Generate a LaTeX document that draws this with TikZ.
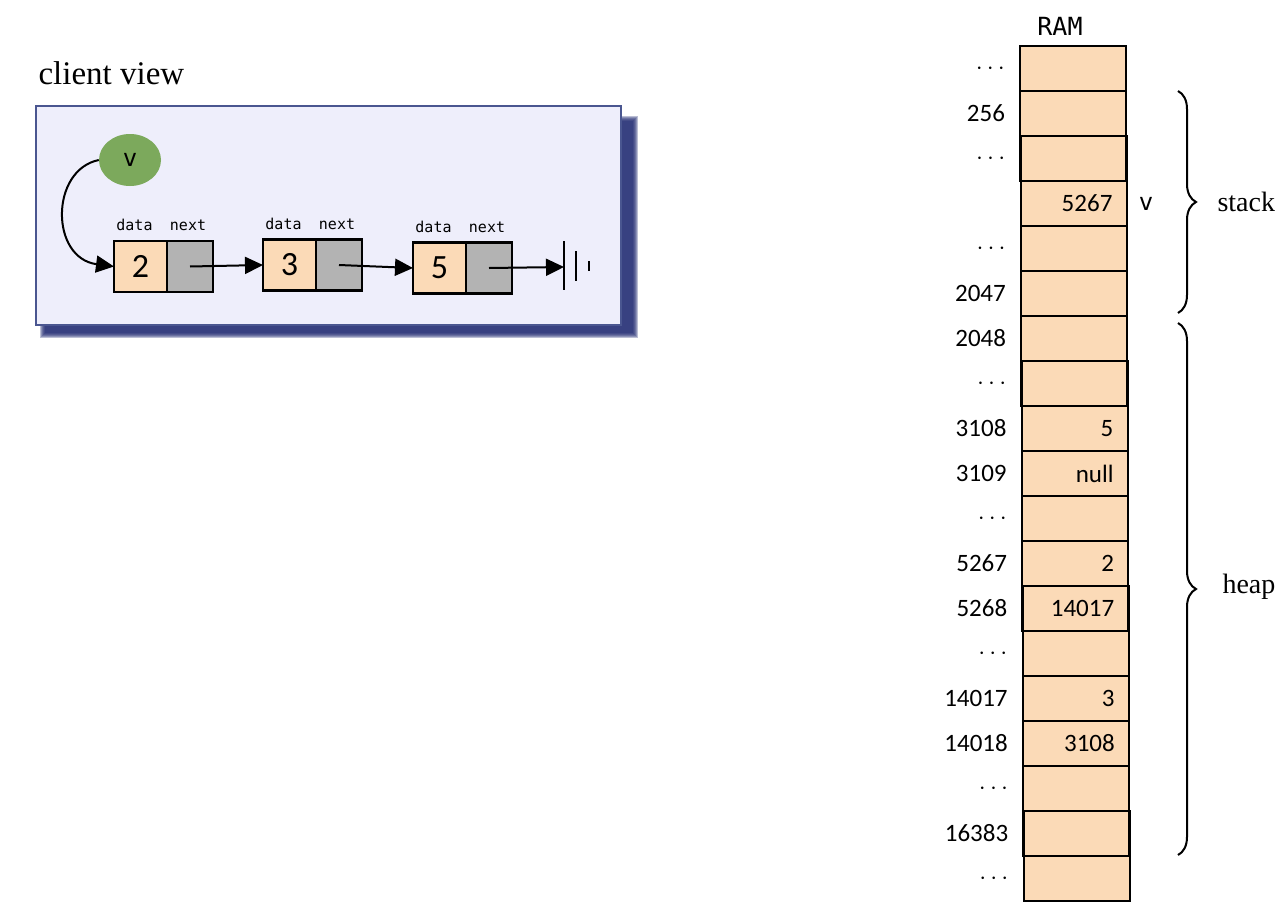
\documentclass[tikz,border=0pt]{standalone}
\usepackage{fontspec}
\setmainfont{Liberation Serif}
\setsansfont{Carlito}
\setmonofont{DejaVu Sans Mono}
\usetikzlibrary{positioning,arrows.meta,decorations.pathreplacing,shapes.geometric}

\definecolor{ramfill}{HTML}{FBDAB7}
\definecolor{nextgray}{HTML}{B3B3B3}
\definecolor{viewbg}{HTML}{EEEEFB}
\definecolor{viewborder}{HTML}{4A5690}
\definecolor{viewshadow}{HTML}{1E2870}
\definecolor{vgreen}{HTML}{7CA95C}

\newcommand{\ramdots}{$\cdots$}

\tikzset{
	ramcell/.style={draw, line width=2.2pt, fill=ramfill, minimum width=106pt, minimum height=45pt, inner sep=0pt, outer sep=0pt},
	datacell/.style={draw, line width=2.2pt, fill=ramfill, minimum width=53pt, minimum height=51pt, inner sep=0pt, outer sep=0pt, font=\sffamily\fontsize{34}{34}\selectfont},
	nextcell/.style={draw, line width=2.2pt, fill=nextgray, minimum width=46pt, minimum height=51pt, inner sep=0pt, outer sep=0pt},
	fieldlabel/.style={font=\ttfamily\fontsize{15}{15}\selectfont, inner sep=0pt},
	addr/.style={anchor=east, font=\sffamily\fontsize{25}{25}\selectfont, inner sep=0pt},
	val/.style={anchor=east, font=\sffamily\fontsize{25}{25}\selectfont, inner sep=0pt},
	ptr/.style={-{Triangle[length=18pt,width=17pt]}, line width=2pt},
	segbrace/.style={decorate, decoration={brace, amplitude=18pt}, line width=2pt},
	region/.style={anchor=west, font=\fontsize{28}{28}\selectfont}
}

\begin{document}
\begin{tikzpicture}[x=1pt, y=1pt]
					%\draw[help lines, step=50] (0,0) grid (1286,-916);
					\useasboundingbox (0,0) rectangle (1286,-916);
					
					% client view
					\node[anchor=west, font=\fontsize{33}{33}\selectfont] (title) at (35,-73) {client view};
					\foreach \k in {0,...,5}{\fill[viewshadow, opacity=0.3] (40+\k,-116-\k) rectangle (638-\k,-338+\k);}
					\node[draw=viewborder, line width=2pt, fill=viewbg, minimum width=585pt, minimum height=219pt, inner sep=0pt] (view) at (328,-215.5) {};
					
					\node[ellipse, fill=vgreen, minimum width=62pt, minimum height=52pt, inner sep=0pt, font=\ttfamily\fontsize{24}{24}\selectfont] (v) at (130,-160) {v};
					
					\node[datacell] (d1) at (140.5,-266.5) {2};
					\node[datacell] (d2) at (289.5,-265) {3};
					\node[datacell] (d3) at (439.5,-268) {5};
					\foreach \k in {1,2,3}{
						\node[nextcell, right=0pt of d\k] (n\k) {};
						\node[fieldlabel, above=10pt of d\k, xshift=-6pt] (dl\k) {data};
						\node[fieldlabel, above=10pt of n\k, xshift=-2pt] (nl\k) {next};
					}
					
					\draw[ptr] (v.west) .. controls (50,-170) and (50,-258) .. (d1.west);
					\draw[ptr] (n1.center) -- (d2.west);
					\draw[ptr] (n2.center) -- (d3.west);
					\coordinate (nullend) at (564,-267);
					\draw[ptr] (n3.center) -- (nullend);
					\draw[line width=2pt] (564,-241) -- (564,-290) (576,-251) -- (576,-281) (589,-261) -- (589,-271);
					
					% RAM
					\node[font=\ttfamily\fontsize{25}{25}\selectfont] (ram) at (1060,-26) {RAM};
					\foreach \i/\a/\v in {0/\ramdots/{},1/256/{},2/\ramdots/{},3/{}/5267,4/\ramdots/{},5/2047/{},6/2048/{},7/\ramdots/{},8/3108/5,9/3109/null,10/\ramdots/{},11/5267/2,12/5268/14017,13/\ramdots/{},14/14017/3,15/14018/3108,16/\ramdots/{},17/16383/{},18/\ramdots/{}}{
						\node[ramcell] (m\i) at (1073+0.2*\i,-68.5-45*\i) {};
						\node[addr] (a\i) at (1005+0.2*\i,-68.5-45*\i) {\a};
						\node[val] (c\i) at (1112+0.2*\i,-68.5-45*\i) {\v};
					}
					\node[font=\ttfamily\fontsize{24}{24}\selectfont] (vname) at (1146,-203.5) {v};
					
					\draw[segbrace] (1178,-91) -- (1178,-313);
					\draw[segbrace] (1178,-323) -- (1178,-855);
					\node[region] (stack) at (1214,-202) {stack};
					\node[region] (heap) at (1219,-587) {heap};
				\end{tikzpicture}
\end{document}
